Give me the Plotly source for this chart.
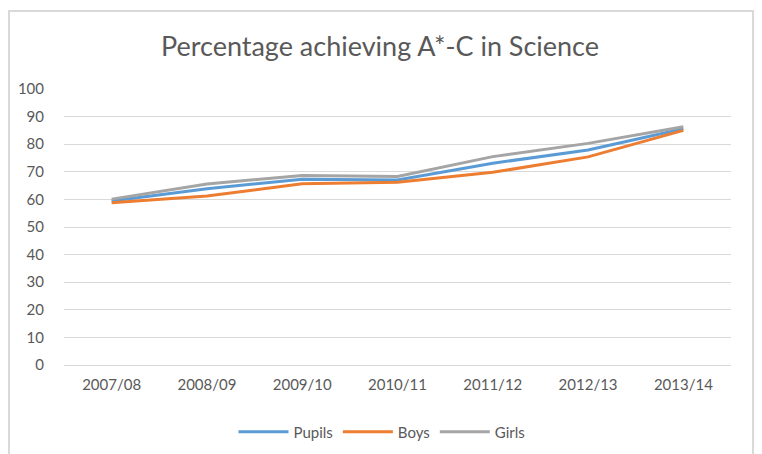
import plotly.graph_objects as go

years = ['2007/08', '2008/09', '2009/10', '2010/11', '2011/12', '2012/13', '2013/14']
pupils = [59.4, 63.9, 67.3, 67.0, 73.1, 77.9, 85.6]
boys = [58.8, 61.2, 65.7, 66.2, 69.8, 75.4, 85.0]
girls = [60.1, 65.6, 68.7, 68.3, 75.5, 80.3, 86.3]

series = [('Pupils', pupils, '#5B9BD5'), ('Boys', boys, '#ED7D31'), ('Girls', girls, '#A5A5A5')]

fig = go.Figure()
for name, vals, col in series:
    fig.add_trace(go.Scatter(x=years, y=vals, name=name, mode='lines',
                             line=dict(color=col, width=3)))

# page has an 8px body margin, so the layout is shifted up/left to compensate
W, H = 762, 454
off = 8
ml, mr, mt, mb = 64 - off, 31 + off, 89 - off, 89 + off
pw, ph = W - ml - mr, H - mt - mb


def px_x(x):
    return (x - off - ml) / pw


def px_y(y):
    return (H - mb - (y - off)) / ph


# outer chart border
fig.add_shape(type='rect', xref='paper', yref='paper',
              x0=px_x(9), x1=px_x(753), y0=px_y(480), y1=px_y(11),
              line=dict(color='#D9D9D9', width=2), fillcolor='rgba(0,0,0,0)', layer='below')

fig.update_layout(
    width=W, height=H, autosize=False,
    margin=dict(l=ml, r=mr, t=mt, b=mb, autoexpand=False),
    paper_bgcolor='white', plot_bgcolor='white',
    font=dict(family='Lato, Open Sans, sans-serif', color='#595959', size=15),
    title=dict(text='Percentage achieving A*-C in Science', xref='container',
               x=(380 - off) / W, xanchor='center',
               yref='container', y=1 - (47 - off) / H, yanchor='middle',
               font=dict(size=27, color='#595959')),
    legend=dict(orientation='h', x=px_x(382), xanchor='center', y=px_y(432), yanchor='middle',
                font=dict(size=15, color='#595959'), itemwidth=50),
    showlegend=True,
)
fig.update_xaxes(range=[-0.5, 6.5], showgrid=False, showline=True, linecolor='#D9D9D9',
                 linewidth=1, ticks='outside', ticklen=6, tickcolor='white',
                 tickfont=dict(size=15, color='#595959'), automargin=False)
fig.update_yaxes(range=[0, 100], dtick=10, showgrid=True, gridcolor='#D9D9D9', gridwidth=1,
                 zeroline=False, showline=False, ticks='outside', ticklen=16, tickcolor='white',
                 tickfont=dict(size=15, color='#595959'), automargin=False)

fig.write_html("out.html")
